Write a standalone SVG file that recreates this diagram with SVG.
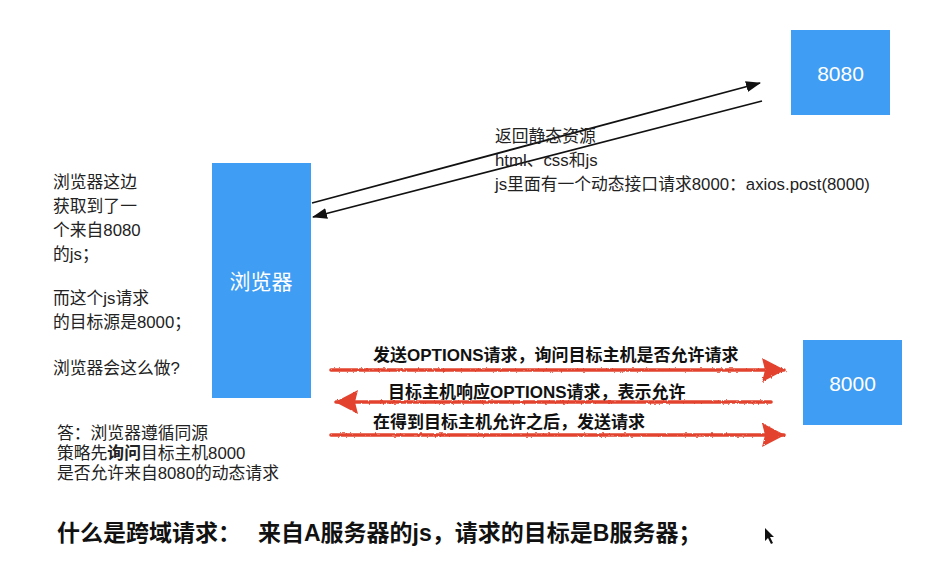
<svg xmlns="http://www.w3.org/2000/svg" width="950" height="581" viewBox="0 0 950 581">
<style>
.box{fill:#3f9df3;}
.btxt{fill:#ffffff;font-family:"Liberation Sans","Noto Sans CJK SC",sans-serif;font-size:21px;text-anchor:middle;}
.t{fill:#222222;font-family:"Liberation Sans","Noto Sans CJK SC",sans-serif;font-size:16.8px;}
.rt{fill:#111111;font-family:"Liberation Sans","Noto Sans CJK SC",sans-serif;font-size:17px;font-weight:bold;}
.big{fill:#111111;font-family:"Liberation Sans","Noto Sans CJK SC",sans-serif;font-size:23px;font-weight:bold;}
.blk{stroke:#111111;stroke-width:1.8;fill:none;}
.red{stroke:#e2432f;stroke-width:3.6;fill:none;stroke-linecap:round;}
</style>
<defs>
<marker id="ab" markerUnits="userSpaceOnUse" markerWidth="15" markerHeight="11" refX="14" refY="5.5" orient="auto-start-reverse">
<path d="M0,0 L15,5.5 L0,11 Z" fill="#111111"/>
</marker>
<marker id="ar" markerUnits="userSpaceOnUse" markerWidth="24" markerHeight="26" refX="22" refY="13" orient="auto-start-reverse">
<path d="M0,1 L23,13 L0,25 L3,13 Z" fill="#e2432f"/>
</marker>
<filter id="rough" x="-5%" y="-50%" width="110%" height="200%">
<feTurbulence type="fractalNoise" baseFrequency="0.35" numOctaves="2" seed="3"/>
<feDisplacementMap in="SourceGraphic" scale="2.5"/>
</filter>
</defs>
<rect width="950" height="581" fill="#ffffff"/>

<g id="connectors">
<line class="blk" x1="312" y1="203" x2="760" y2="83" marker-end="url(#ab)"/>
<line class="blk" x1="762" y1="101" x2="313" y2="217" marker-end="url(#ab)"/>
<g filter="url(#rough)">
<line class="red" x1="331" y1="370" x2="784" y2="370" marker-end="url(#ar)"/>
<line class="red" x1="771" y1="402" x2="336" y2="402" marker-end="url(#ar)"/>
<line class="red" x1="331" y1="435" x2="784" y2="435" marker-end="url(#ar)"/>
</g>
</g>

<g id="node-8080">
<rect class="box" x="791" y="30" width="99" height="85"/>
<text class="btxt" x="840.5" y="81">8080</text>
</g>
<g id="node-browser">
<rect class="box" x="212" y="163" width="99" height="235"/>
<text class="btxt" x="261" y="289">浏览器</text>
</g>
<g id="node-8000">
<rect class="box" x="803" y="340" width="99" height="85"/>
<text class="btxt" x="852.5" y="391">8000</text>
</g>

<g id="label-static">
<text class="t" x="495" y="142">返回静态资源</text>
<text class="t" x="495" y="166">html、css和js</text>
<text class="t" x="495" y="190">js里面有一个动态接口请求8000：axios.post(8000)</text>
</g>

<g id="label-left">
<text class="t" x="53" y="188">浏览器这边</text>
<text class="t" x="53" y="212">获取到了一</text>
<text class="t" x="53" y="236">个来自8080</text>
<text class="t" x="53" y="260">的js；</text>
<text class="t" x="53" y="304">而这个js请求</text>
<text class="t" x="53" y="328">的目标源是8000；</text>
<text class="t" x="53" y="374">浏览器会这么做?</text>
</g>

<g id="label-red">
<text class="rt" x="373" y="361">发送OPTIONS请求，询问目标主机是否允许请求</text>
<text class="rt" x="388" y="398">目标主机响应OPTIONS请求，表示允许</text>
<text class="rt" x="373" y="428">在得到目标主机允许之后，发送请求</text>
</g>

<g id="label-answer">
<text class="t" x="57" y="439">答：浏览器遵循同源</text>
<text class="t" x="57" y="459">策略先<tspan font-weight="bold">询问</tspan>目标主机8000</text>
<text class="t" x="57" y="479">是否允许来自8080的动态请求</text>
</g>

<g id="label-bottom">
<text class="big" x="57" y="541">什么是跨域请求：<tspan x="258">来自A服务器的js，请求的目标是B服务器；</tspan></text>
</g>

<path d="M765,528 L765,541 L768,538 L771,544 L773,543 L770,537 L774,537 Z" fill="#111111"/>
</svg>
